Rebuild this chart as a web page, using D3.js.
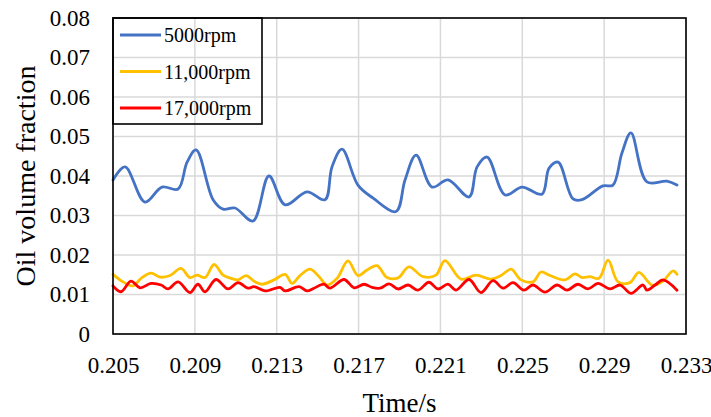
<!DOCTYPE html>
<html>
<head>
<meta charset="utf-8">
<script src="https://cdn.jsdelivr.net/npm/d3@7"></script>
<style>
  html, body { margin: 0; padding: 0; background: #fff; }
  svg { display: block; }
  text { font-family: "Liberation Serif", "Tinos", "Times New Roman", "DejaVu Serif", serif; fill: #000; }
</style>
</head>
<body>
<svg id="chart" width="711" height="417"></svg>
<script>
// Oil volume fraction over time at three rotor speeds
const seriesNames = ["5000rpm", "11,000rpm", "17,000rpm"];
const seriesColors = ["#4472C4", "#FFC000", "#FF0000"];

const time5000 = [0.20500, 0.20559, 0.20656, 0.20739, 0.20818, 0.20862, 0.20906, 0.20989, 0.21038, 0.21096,
  0.21184, 0.21262, 0.21341, 0.21448, 0.21536, 0.21570, 0.21619, 0.21697, 0.21771, 0.21883,
  0.21927, 0.21981, 0.22059, 0.22137, 0.22240, 0.22279, 0.22328, 0.22416, 0.22499, 0.22596,
  0.22631, 0.22675, 0.22748, 0.22792, 0.22894, 0.22943, 0.22987, 0.23031, 0.23109, 0.23207, 0.23256];
const frac5000 = [0.0390, 0.0423, 0.0334, 0.0372, 0.0367, 0.0435, 0.0466, 0.0340, 0.0316, 0.0319,
  0.0286, 0.0400, 0.0327, 0.0360, 0.0340, 0.0423, 0.0468, 0.0377, 0.0344, 0.0310,
  0.0390, 0.0453, 0.0372, 0.0390, 0.0347, 0.0423, 0.0448, 0.0352, 0.0372, 0.0354,
  0.0420, 0.0435, 0.0342, 0.0340, 0.0375, 0.0377, 0.0458, 0.0509, 0.0385, 0.0387, 0.0377];

const time11000 = [0.20500, 0.20549, 0.20598, 0.20637, 0.20686, 0.20730, 0.20779, 0.20832, 0.20876, 0.20911,
  0.20950, 0.20994, 0.21038, 0.21077, 0.21111, 0.21150, 0.21194, 0.21228, 0.21287, 0.21341,
  0.21375, 0.21414, 0.21463, 0.21507, 0.21546, 0.21595, 0.21648, 0.21697, 0.21741, 0.21790,
  0.21839, 0.21893, 0.21946, 0.22015, 0.22078, 0.22122, 0.22201, 0.22274, 0.22347, 0.22396,
  0.22445, 0.22494, 0.22552, 0.22592, 0.22635, 0.22709, 0.22758, 0.22792, 0.22831, 0.22875,
  0.22919, 0.22968, 0.23026, 0.23070, 0.23134, 0.23183, 0.23237, 0.23256];
const frac11000 = [0.0151, 0.0132, 0.0122, 0.0141, 0.0154, 0.0144, 0.0148, 0.0166, 0.0143, 0.0149,
  0.0143, 0.0176, 0.0149, 0.0141, 0.0137, 0.0148, 0.0132, 0.0126, 0.0137, 0.0151,
  0.0128, 0.0148, 0.0164, 0.0145, 0.0124, 0.0141, 0.0185, 0.0148, 0.0162, 0.0173,
  0.0143, 0.0142, 0.0170, 0.0145, 0.0149, 0.0186, 0.0139, 0.0149, 0.0139, 0.0148,
  0.0164, 0.0137, 0.0132, 0.0157, 0.0148, 0.0137, 0.0152, 0.0143, 0.0145, 0.0141,
  0.0187, 0.0132, 0.0130, 0.0156, 0.0124, 0.0132, 0.0160, 0.0151];

const time17000 = [0.20500, 0.20539, 0.20588, 0.20632, 0.20686, 0.20735, 0.20769, 0.20818, 0.20876, 0.20915,
  0.20950, 0.21003, 0.21062, 0.21111, 0.21160, 0.21189, 0.21243, 0.21316, 0.21341, 0.21409,
  0.21448, 0.21482, 0.21531, 0.21560, 0.21629, 0.21678, 0.21727, 0.21766, 0.21805, 0.21849,
  0.21893, 0.21942, 0.21990, 0.22044, 0.22088, 0.22137, 0.22176, 0.22240, 0.22298, 0.22357,
  0.22406, 0.22455, 0.22508, 0.22552, 0.22611, 0.22670, 0.22719, 0.22772, 0.22821, 0.22870,
  0.22929, 0.22978, 0.23031, 0.23090, 0.23109, 0.23149, 0.23188, 0.23256];
const frac17000 = [0.0122, 0.0107, 0.0134, 0.0117, 0.0128, 0.0124, 0.0114, 0.0132, 0.0105, 0.0126,
  0.0107, 0.0138, 0.0114, 0.0130, 0.0116, 0.0120, 0.0109, 0.0118, 0.0109, 0.0120,
  0.0109, 0.0116, 0.0126, 0.0116, 0.0138, 0.0117, 0.0126, 0.0118, 0.0116, 0.0127,
  0.0114, 0.0124, 0.0111, 0.0131, 0.0114, 0.0126, 0.0111, 0.0138, 0.0105, 0.0135,
  0.0116, 0.0130, 0.0111, 0.0124, 0.0106, 0.0124, 0.0111, 0.0126, 0.0114, 0.0128,
  0.0114, 0.0124, 0.0103, 0.0124, 0.0111, 0.0124, 0.0137, 0.0111];

const xTicks = [0.205, 0.209, 0.213, 0.217, 0.221, 0.225, 0.229, 0.233];
const yTicks = [0, 0.01, 0.02, 0.03, 0.04, 0.05, 0.06, 0.07, 0.08];
const xTitle = "Time/s";
const yTitle = "Oil volume fraction";

const timeSets = [time5000, time11000, time17000];
const fracSets = [frac5000, frac11000, frac17000];

const svg = d3.select("#chart");
const plot = { left: 113, right: 686, top: 18, bottom: 334 };

const x = d3.scaleLinear().domain([0.205, 0.233]).range([plot.left, plot.right]);
const y = d3.scaleLinear().domain([0, 0.08]).range([plot.bottom, plot.top]);

// gridlines
const grid = svg.append("g");
grid.selectAll("line.h").data(yTicks).join("line")
  .attr("x1", plot.left).attr("x2", plot.right)
  .attr("y1", d => y(d)).attr("y2", d => y(d))
  .attr("stroke", "#D9D9D9").attr("stroke-width", 1.5);
grid.selectAll("line.v").data(xTicks).join("line")
  .attr("y1", plot.top).attr("y2", plot.bottom)
  .attr("x1", d => x(d)).attr("x2", d => x(d))
  .attr("stroke", "#D9D9D9").attr("stroke-width", 1.5);

// axes (labels only; the frame draws the lines)
const xAxis = d3.axisBottom(x).tickValues(xTicks).tickFormat(d3.format(".3f")).tickSize(0).tickPadding(23);
const gx = svg.append("g").attr("transform", `translate(0,${plot.bottom})`).call(xAxis);
gx.select(".domain").remove();
gx.attr("font-family", null);
gx.selectAll("text").attr("font-size", 23).attr("fill", "#000");

const yFmt = d => d === 0 ? "0" : d3.format(".2f")(d);
const yAxis = d3.axisLeft(y).tickValues(yTicks).tickFormat(yFmt).tickSize(0).tickPadding(23);
const gy = svg.append("g").attr("transform", `translate(${plot.left},0)`).call(yAxis);
gy.select(".domain").remove();
gy.attr("font-family", null);
gy.selectAll("text").attr("font-size", 23).attr("fill", "#000");

// series lines
const line = d3.line()
  .x(d => x(d[0]))
  .y(d => y(d[1]))
  .curve(d3.curveCatmullRom.alpha(0.5));

seriesNames.forEach((name, i) => {
  const pts = timeSets[i].map((t, k) => [t, fracSets[i][k]]);
  svg.append("path")
    .datum(pts)
    .attr("d", line)
    .attr("fill", "none")
    .attr("stroke", seriesColors[i])
    .attr("stroke-width", 2.8)
    .attr("stroke-linejoin", "round")
    .attr("stroke-linecap", "round");
});

// plot frame
svg.append("rect")
  .attr("x", plot.left).attr("y", plot.top)
  .attr("width", plot.right - plot.left).attr("height", plot.bottom - plot.top)
  .attr("fill", "none").attr("stroke", "#000").attr("stroke-width", 1.6);

// legend
const legend = svg.append("g");
legend.append("rect")
  .attr("x", plot.left).attr("y", plot.top)
  .attr("width", 149).attr("height", 106)
  .attr("fill", "none").attr("stroke", "#000").attr("stroke-width", 1.6);
seriesNames.forEach((name, i) => {
  const cy = 35 + i * 36.5;
  legend.append("line")
    .attr("x1", 120).attr("x2", 161).attr("y1", cy).attr("y2", cy)
    .attr("stroke", seriesColors[i]).attr("stroke-width", 2.8);
  legend.append("text")
    .attr("x", 164).attr("y", cy + 7)
    .attr("font-size", 20)
    .text(name);
});

// axis titles
svg.append("text")
  .attr("x", (plot.left + plot.right) / 2).attr("y", 412)
  .attr("text-anchor", "middle").attr("font-size", 27)
  .text(xTitle);
svg.append("text")
  .attr("transform", `translate(35,${(plot.top + plot.bottom) / 2}) rotate(-90)`)
  .attr("text-anchor", "middle").attr("font-size", 28)
  .text(yTitle);
</script>
</body>
</html>
